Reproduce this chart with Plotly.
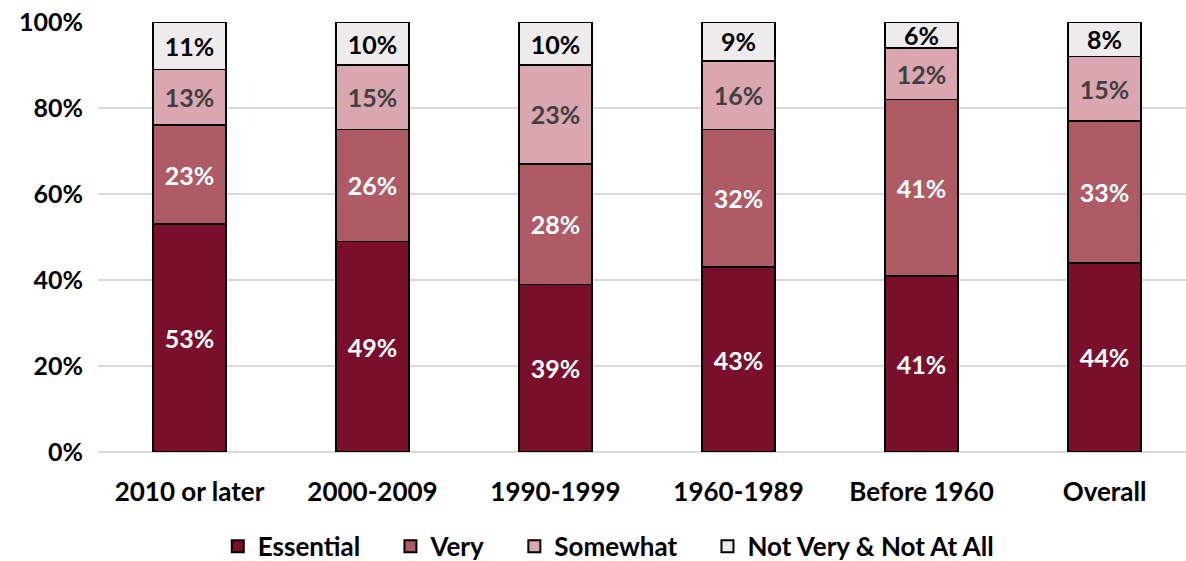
import plotly.graph_objects as go

categories = ["2010 or later", "2000-2009", "1990-1999", "1960-1989", "Before 1960", "Overall"]
essential = [53, 49, 39, 43, 41, 44]
very = [23, 26, 28, 32, 41, 33]
somewhat = [13, 15, 23, 16, 12, 15]
not_very = [11, 10, 10, 9, 6, 8]
names = ["Essential", "Very", "Somewhat", "Not Very & Not At All"]
y_ticks = [0, 20, 40, 60, 80, 100]

series = [essential, very, somewhat, not_very]
colors = ["#7A0F2B", "#AF5B66", "#DAA6B0", "#EEEBEC"]
text_colors = ["white", "white", "#404040", "black"]

FONT = "Lato"
PAD = "\u00a0" * 4

fig = go.Figure()
for i, (vals, col, tcol, name) in enumerate(zip(series, colors, text_colors, names)):
    fig.add_trace(go.Bar(
        x=categories, y=vals, name=name + (PAD if i < len(names) - 1 else ""),
        marker=dict(color=col, line=dict(color="black", width=1.6)),
        width=0.4,
        text=[f"{v}%" for v in vals],
        textposition="inside", insidetextanchor="middle", textangle=0,
        constraintext="none",
        textfont=dict(family=FONT, size=25, color=tcol, weight="bold"),
        hoverinfo="skip",
    ))

fig.update_layout(
    barmode="stack",
    width=1186, height=561,
    margin=dict(l=98, r=0, t=22, b=109, autoexpand=False),
    paper_bgcolor="white", plot_bgcolor="white",
    font=dict(family=FONT, size=25, color="black"),
    uniformtext=dict(mode=False),
    legend=dict(orientation="h", x=0.469, xanchor="center", y=-0.165, yanchor="top",
                font=dict(family=FONT, size=26, color="black", weight="bold"),
                itemsizing="constant", traceorder="normal", itemwidth=30),
    showlegend=True,
)
fig.update_xaxes(range=[-0.5, 5.445], showline=False, ticks="", showgrid=False,
                 automargin=False, ticklabelstandoff=22,
                 tickfont=dict(family=FONT, size=26, color="black", weight="bold"))
fig.update_yaxes(range=[0, 100], tickvals=y_ticks, ticktext=[f"{v}%" for v in y_ticks],
                 showgrid=True, gridcolor="#D9D9D9", gridwidth=1.5,
                 zeroline=True, zerolinecolor="#D9D9D9", zerolinewidth=1.5,
                 showline=False, ticks="", ticklabelstandoff=14, automargin=False,
                 tickfont=dict(family=FONT, size=25, color="black", weight="bold"))

fig.write_html("out.html", config={"displayModeBar": False},
               post_script="document.body.style.margin='0';document.body.style.overflow='hidden';")
